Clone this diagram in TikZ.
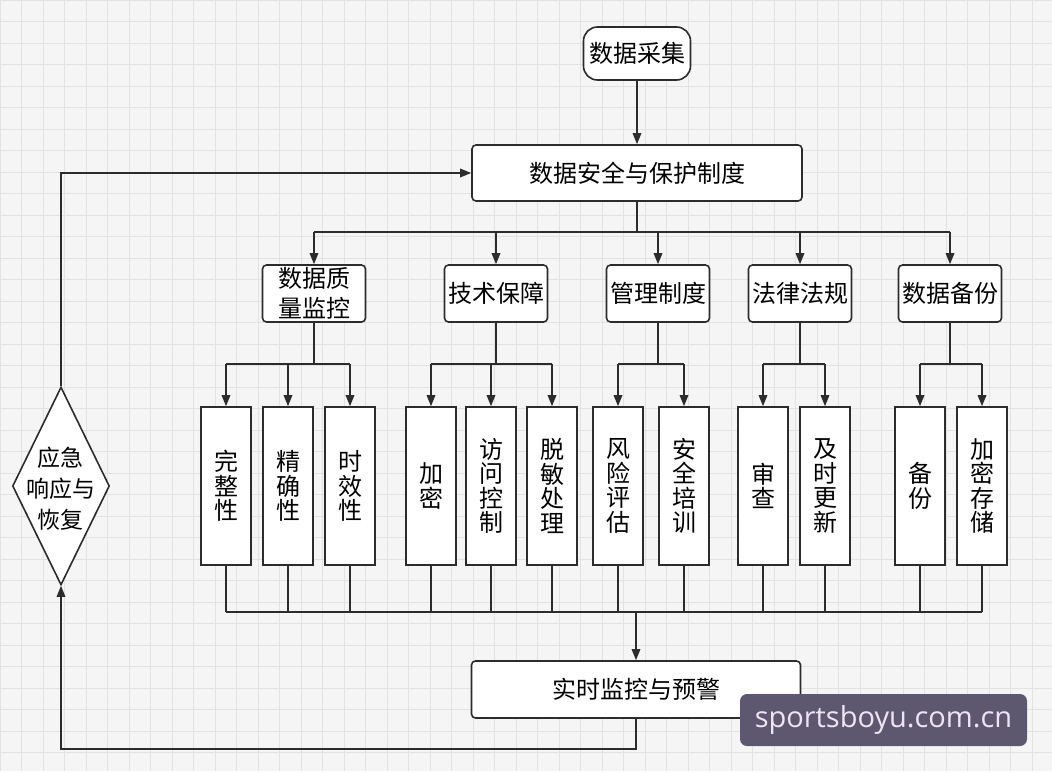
\documentclass[tikz,border=0pt]{standalone}
\usepackage{fontspec}
\newfontfamily\cjk{Noto Sans CJK SC}
\newfontfamily\wmfont{Open Sans}
\usetikzlibrary{arrows.meta,shapes.geometric}
\definecolor{ln}{HTML}{2C2C2C}
\definecolor{bg}{HTML}{F5F5F5}
\definecolor{gridc}{HTML}{E2E2E2}
\definecolor{wmbg}{HTML}{5E5770}
\definecolor{wmfg}{HTML}{ECE6F4}
\begin{document}
\begin{tikzpicture}[x=1pt,y=-1pt,
  line/.style={draw=ln,line width=1.6pt},
  arr/.style={line,-{Triangle[length=11pt,width=8.5pt]}},
  box/.style={draw=ln,line width=1.6pt,fill=white,rounded corners=4pt,inner sep=0pt,align=center,
    font=\cjk\fontsize{24}{30}\selectfont},
  lvtwo/.style={box,minimum width=103pt,minimum height=57pt},
  leaf/.style={box,rounded corners=0pt,minimum width=50pt,minimum height=158pt,
    font=\cjk\fontsize{24}{24.5}\selectfont}]
\useasboundingbox (0,0) rectangle (1052,771);
\fill[bg] (0,0) rectangle (1052,771);
\foreach \x in {0,21.5,...,1052} \draw[gridc,line width=0.7pt] (\x,0) -- (\x,771);
\foreach \y in {0,21.5,...,771} \draw[gridc,line width=0.7pt] (0,\y) -- (1052,\y);

% main nodes
\node[box,rounded corners=14pt,minimum width=107pt,minimum height=53pt] (src) at (637,53.5) {数据采集};
\node[box,minimum width=330pt,minimum height=56pt] (top) at (637,173) {数据安全与保护制度};
\node[box,minimum width=329pt,minimum height=57pt] (rt) at (636,689.5) {实时监控与预警};

% level two
\node[lvtwo] (l1) at (314,293.5) {数据质\\量监控};
\node[lvtwo] (l2) at (496,293.5) {技术保障};
\node[lvtwo] (l3) at (658,293.5) {管理制度};
\node[lvtwo] (l4) at (800,293.5) {法律法规};
\node[lvtwo] (l5) at (950,293.5) {数据备份};

% leaves
\node[leaf] (a1) at (226,486) {完\\整\\性};
\node[leaf] (a2) at (288,486) {精\\确\\性};
\node[leaf] (a3) at (350,486) {时\\效\\性};
\node[leaf] (b1) at (431,486) {加\\密};
\node[leaf] (b2) at (491,486) {访\\问\\控\\制};
\node[leaf] (b3) at (552,486) {脱\\敏\\处\\理};
\node[leaf] (c1) at (618,486) {风\\险\\评\\估};
\node[leaf] (c2) at (684,486) {安\\全\\培\\训};
\node[leaf] (d1) at (763,486) {审\\查};
\node[leaf] (d2) at (825,486) {及\\时\\更\\新};
\node[leaf] (e1) at (920,486) {备\\份};
\node[leaf] (e2) at (982,486) {加\\密\\存\\储};

% diamond
\node[draw=ln,line width=1.6pt,fill=white,diamond,minimum width=97pt,minimum height=198pt,inner sep=0pt] (dia) at (61,486) {};
\node[font=\cjk\fontsize{23}{31}\selectfont,align=center,inner sep=0pt] (diatext) at (61,489) {应急\\响应与\\恢复};

% coordinates for buses
\coordinate (bus1) at (0,232);
\coordinate (bus2) at (0,364);
\coordinate (bus3) at (0,612);
\coordinate (fb) at (61,749);

% connectors top
\draw[arr] (src) -- (top);
\draw[line] (top.south) -- (top.south |- bus1);
\draw[line] (l1.north |- bus1) -- (l5.north |- bus1);
\foreach \n in {l1,l2,l3,l4,l5} \draw[arr] (\n.north |- bus1) -- (\n.north);

% level two to leaves
\foreach \p/\f/\l/\kids in {l1/a1/a3/{a1,a2,a3},l2/b1/b3/{b1,b2,b3},l3/c1/c2/{c1,c2},l4/d1/d2/{d1,d2},l5/e1/e2/{e1,e2}}{
  \draw[line] (\p.south) -- (\p.south |- bus2);
  \draw[line] (\f.north |- bus2) -- (\l.north |- bus2);
  \foreach \k in \kids \draw[arr] (\k.north |- bus2) -- (\k.north);
}

% leaves to monitoring
\foreach \k in {a1,a2,a3,b1,b2,b3,c1,c2,d1,d2,e1,e2} \draw[line] (\k.south) -- (\k.south |- bus3);
\draw[line] (a1.south |- bus3) -- (e2.south |- bus3);
\draw[arr] (rt.north |- bus3) -- (rt.north);

% feedback loop
\draw[arr] (rt.south) |- (fb) -- (dia.south);
\draw[arr] (dia.north) |- (top.west);

% watermark
\node[fill=wmbg,rounded corners=7pt,minimum width=287pt,minimum height=52pt,inner sep=0pt,
  text=wmfg,font=\wmfont\fontsize{29}{32}\selectfont] (wm) at (883.5,720) {sportsboyu.com.cn};
\end{tikzpicture}
\end{document}
